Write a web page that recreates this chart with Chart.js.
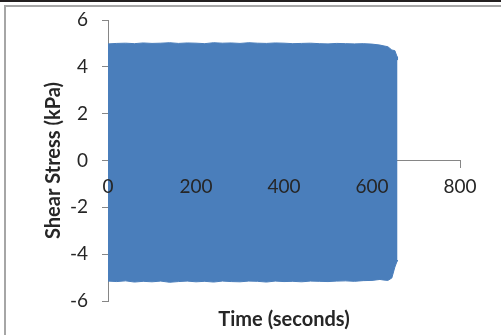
<!DOCTYPE html>
<html>
<head>
<meta charset="utf-8">
<script src="https://cdn.jsdelivr.net/npm/chart.js@4.4.1/dist/chart.umd.min.js"></script>
<style>
  html, body { margin: 0; padding: 0; background: #fff; overflow: hidden; }
  #wrap { position: relative; width: 501px; height: 335px; overflow: hidden; }
  #topbar { position: absolute; left: 0; top: 0; width: 501px; height: 2px; background: #231f20; }
  #frame { position: absolute; left: 4px; top: 5px; width: 600px; height: 400px; border-left: 2px solid #a6a6a6; border-top: 2px solid #a6a6a6; }
  #c { position: absolute; left: 0; top: 0; }
</style>
</head>
<body>
<div id="wrap">
  <div id="topbar"></div>
  <div id="frame"></div>
  <canvas id="c" width="501" height="335"></canvas>
</div>
<script>
// envelope of the shear stress signal
const timeSec = [0, 20, 40, 60, 80, 100, 120, 140, 160, 180, 200, 220, 240, 260, 280, 300,
    320, 340, 360, 380, 400, 420, 440, 460, 480, 500, 520, 540, 560, 580, 600, 618, 625,
    636, 645, 652, 657, 658];
const stressMax = [4.98, 5.00, 5.01, 4.99, 5.02, 5.00, 5.01, 5.03, 5.00, 5.02, 5.01, 4.99,
    5.03, 5.01, 5.02, 5.00, 5.03, 5.01, 5.00, 5.02, 5.01, 4.99, 5.00, 5.01, 4.99, 4.98,
    5.00, 4.99, 4.98, 4.99, 4.97, 4.93, 4.90, 4.86, 4.72, 4.69, 4.43, 4.29];
const stressMin = [-5.15, -5.17, -5.14, -5.19, -5.16, -5.18, -5.15, -5.20, -5.17, -5.15,
    -5.18, -5.16, -5.19, -5.15, -5.17, -5.18, -5.15, -5.16, -5.19, -5.15, -5.17, -5.16,
    -5.18, -5.15, -5.16, -5.17, -5.15, -5.14, -5.16, -5.13, -5.12, -5.08, -5.10, -5.12,
    -5.02, -4.55, -4.30, -4.25];

const xTicks = [0, 200, 400, 600, 800];
const yTicks = [-6, -4, -2, 0, 2, 4, 6];

const blue = "#4a7ebb";
const axisGray = "#868686";
const textColor = "#262626";

function toPoints(xs, ys) {
    return xs.map((x, i) => ({x: x, y: ys[i]}));
}

new Chart(document.getElementById("c"), {
    type: "line",
    data: {
        datasets: [{
            data: toPoints(timeSec, stressMax),
            borderColor: blue,
            backgroundColor: blue,
            borderWidth: 1,
            pointRadius: 0,
            tension: 0,
            fill: "+1"
        }, {
            data: toPoints(timeSec, stressMin),
            borderColor: blue,
            backgroundColor: blue,
            borderWidth: 1,
            pointRadius: 0,
            tension: 0,
            fill: false
        }]
    },
    options: {
        responsive: false,
        animation: false,
        devicePixelRatio: 1,
        layout: {padding: {left: 38, right: 41, top: 20, bottom: 0}},
        plugins: {
            legend: {display: false},
            tooltip: {enabled: false},
            title: {
                display: true,
                position: "bottom",
                fullSize: false,
                text: "Time (seconds)",
                color: textColor,
                font: {family: "Lato", size: 20, weight: "bold"},
                padding: {top: 7, bottom: 3}
            }
        },
        scales: {
            x: {
                type: "linear",
                position: {y: 0},
                min: 0,
                max: 800,
                afterBuildTicks: (axis) => { axis.ticks = xTicks.map(v => ({value: v})); },
                grid: {drawOnChartArea: false, drawTicks: true, tickLength: 7, color: axisGray},
                border: {display: true, color: axisGray, width: 1},
                ticks: {z: 1, padding: 8, color: textColor, maxRotation: 0,
                        font: {family: "Lato", size: 19}}
            },
            y: {
                type: "linear",
                position: "left",
                min: -6,
                max: 6,
                afterBuildTicks: (axis) => { axis.ticks = yTicks.map(v => ({value: v})); },
                afterFit: (axis) => {
                    axis.width = 70;
                    axis.paddingTop = 0;
                    axis.paddingBottom = 0;
                },
                grid: {drawOnChartArea: false, drawTicks: true, tickLength: 6, color: axisGray},
                border: {display: true, color: axisGray, width: 1},
                ticks: {padding: 14, color: textColor, font: {family: "Lato", size: 19}},
                title: {
                    display: true,
                    text: "Shear Stress (kPa)",
                    color: textColor,
                    font: {family: "Lato", size: 20, weight: "bold"},
                    padding: {top: 4, bottom: 4}
                }
            }
        }
    }
});
</script>
</body>
</html>
